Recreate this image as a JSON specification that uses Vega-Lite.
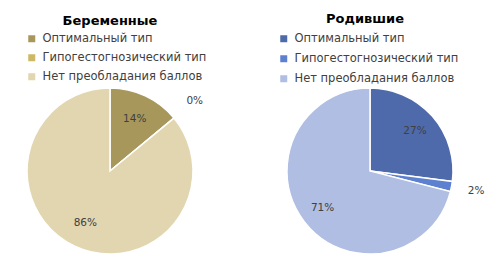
{
  "$schema": "https://vega.github.io/schema/vega-lite/v6.json",
  "background": "white",
  "padding": {"left": 0, "top": 13, "right": 0, "bottom": 0},
  "spacing": 35,
  "config": {
    "view": {"stroke": null},
    "font": "DejaVu Sans",
    "title": {"font": "DejaVu Sans", "fontSize": 13, "fontWeight": "bold", "color": "#000000", "anchor": "middle", "frame": "group", "offset": 5}
  },
  "datasets": {
    "b": [
      {"cat": "Оптимальный тип", "k": 1, "pct": 14, "label": "14%"},
      {"cat": "Гипогестогнозический тип", "k": 2, "pct": 0, "label": "0%"},
      {"cat": "Нет преобладания баллов", "k": 3, "pct": 86, "label": "86%"}
    ],
    "r": [
      {"cat": "Оптимальный тип", "k": 1, "pct": 27, "label": "27%"},
      {"cat": "Гипогестогнозический тип", "k": 2, "pct": 2, "label": "2%"},
      {"cat": "Нет преобладания баллов", "k": 3, "pct": 71, "label": "71%"}
    ]
  },
  "hconcat": [
    {
      "width": 220,
      "height": 164,
      "title": "Беременные",
      "data": {"name": "b"},
      "encoding": {
        "theta": {"field": "pct", "type": "quantitative", "stack": true},
        "order": {"field": "k", "type": "quantitative"}
      },
      "layer": [
        {
          "mark": {"type": "arc", "outerRadius": 83, "stroke": "white", "strokeWidth": 1.5},
          "encoding": {
            "color": {
              "field": "cat", "type": "nominal",
              "scale": {"domain": ["Оптимальный тип", "Гипогестогнозический тип", "Нет преобладания баллов"], "range": ["#A8975A", "#CDB866", "#E2D6B0"]},
              "legend": {"orient": "none", "legendX": 26, "legendY": -56, "title": null, "labelFontSize": 11.5, "labelLimit": 0, "labelColor": "#404040", "labelFont": "DejaVu Sans", "symbolType": "square", "symbolSize": 49, "symbolStrokeWidth": 0, "rowPadding": 6, "labelOffset": 5}
            }
          }
        },
        {
          "mark": {"type": "text", "radius": 58, "fontSize": 10.5, "fill": "#404040"},
          "encoding": {
            "text": {"condition": {"test": "datum.pct < 5", "value": ""}, "field": "label", "type": "nominal"}
          }
        },
        {
          "mark": {"type": "text", "radius": 110, "fontSize": 10.5, "fill": "#404040"},
          "encoding": {
            "text": {"condition": {"test": "datum.pct >= 5", "value": ""}, "field": "label", "type": "nominal"}
          }
        }
      ]
    },
    {
      "width": 230,
      "height": 164,
      "title": {"text": "Родившие", "dx": -5, "offset": 7},
      "data": {"name": "r"},
      "encoding": {
        "theta": {"field": "pct", "type": "quantitative", "stack": true},
        "order": {"field": "k", "type": "quantitative"}
      },
      "layer": [
        {
          "mark": {"type": "arc", "outerRadius": 83, "stroke": "white", "strokeWidth": 1.5},
          "encoding": {
            "color": {
              "field": "cat", "type": "nominal",
              "scale": {"domain": ["Оптимальный тип", "Гипогестогнозический тип", "Нет преобладания баллов"], "range": ["#4E6AAB", "#5D80D0", "#B0BEE3"]},
              "legend": {"orient": "none", "legendX": 23, "legendY": -56, "title": null, "labelFontSize": 11.5, "labelLimit": 0, "labelColor": "#404040", "labelFont": "DejaVu Sans", "symbolType": "square", "symbolSize": 49, "symbolStrokeWidth": 0, "rowPadding": 7, "labelOffset": 5}
            }
          }
        },
        {
          "mark": {"type": "text", "radius": 60, "fontSize": 10.5, "fill": "#404040"},
          "encoding": {
            "text": {"condition": {"test": "datum.pct < 5", "value": ""}, "field": "label", "type": "nominal"}
          }
        },
        {
          "mark": {"type": "text", "radius": 108, "fontSize": 10.5, "fill": "#404040"},
          "encoding": {
            "text": {"condition": {"test": "datum.pct >= 5", "value": ""}, "field": "label", "type": "nominal"}
          }
        }
      ]
    }
  ],
  "resolve": {"scale": {"color": "independent", "theta": "independent"}, "legend": {"color": "independent"}}
}
